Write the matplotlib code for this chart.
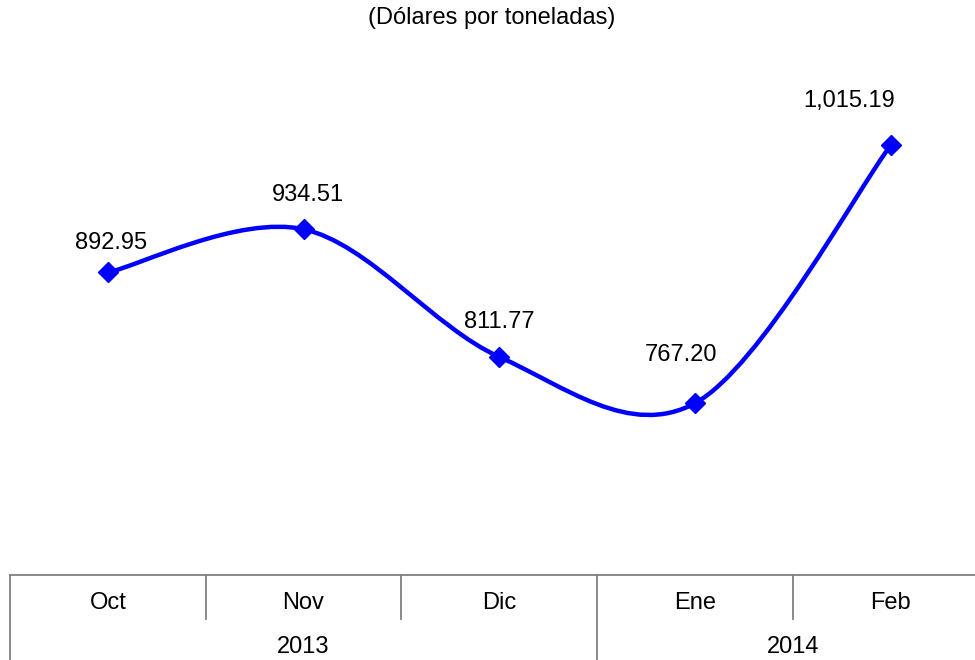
import numpy as np
import matplotlib
matplotlib.use("Agg")
from matplotlib import pyplot as plt
from matplotlib.path import Path
from matplotlib.patches import PathPatch

plt.rcParams['font.family'] = ['Liberation Sans', 'DejaVu Sans']

months = ["Oct", "Nov", "Dic", "Ene", "Feb"]
years = ["2013", "2014"]
year_span = [(0, 2), (3, 4)]
prices = [892.95, 934.51, 811.77, 767.20, 1015.19]
price_labels = ["892.95", "934.51", "811.77", "767.20", "1,015.19"]

W, H = 975, 660
fig = plt.figure(figsize=(W / 100, H / 100), dpi=100)
# axes from x=10px to ~988px, y from 575px (bottom) to top of figure
ax = fig.add_axes([10 / W, 85 / H, 978.5 / W, 575 / H])
ax.set_xlim(-0.5, 4.5)
ax.set_ylim(602, 1155)

x = np.arange(len(prices))
y = np.array(prices)

# Excel style smooth line: catmull-rom converted to bezier segments
verts = [(x[0], y[0])]
codes = [Path.MOVETO]
n = len(x)
for i in range(n - 1):
    p0 = np.array([x[max(i - 1, 0)], y[max(i - 1, 0)]])
    p1 = np.array([x[i], y[i]])
    p2 = np.array([x[i + 1], y[i + 1]])
    p3 = np.array([x[min(i + 2, n - 1)], y[min(i + 2, n - 1)]])
    c1 = p1 + (p2 - p0) / 6
    c2 = p2 - (p3 - p1) / 6
    verts += [tuple(c1), tuple(c2), tuple(p2)]
    codes += [Path.CURVE4] * 3
ax.add_patch(PathPatch(Path(verts, codes), fill=False, edgecolor="#0000FF",
                       lw=3.2, capstyle="round", joinstyle="round"))
ax.plot(x, y, linestyle="none", marker="D", markersize=10, color="#0000FF")

# data labels (offsets in points)
offsets = [(2, 21), (3, 25), (0, 25), (-10, 35), (-30, 32)]
for xi, yi, lab, off in zip(x, y, price_labels, offsets):
    ax.annotate(lab, (xi, yi), xytext=off, textcoords="offset points",
                ha="center", va="center", fontsize=17)

ax.set_xticks([])
ax.set_yticks([])
for s in ["top", "right", "left"]:
    ax.spines[s].set_visible(False)
ax.spines["bottom"].set_color("#808080")
ax.spines["bottom"].set_linewidth(1.3)

# category table under the axis
trans = ax.get_xaxis_transform()
row1 = -44 / 575
row2 = -85 / 575
gray = "#808080"
ax.plot([-0.5, -0.5], [0, row2], transform=trans, color=gray, lw=1.3, clip_on=False)
for i in range(len(months) - 1):
    full = any(i + 0.5 == hi + 0.5 for lo, hi in year_span[:-1])
    ax.plot([i + 0.5, i + 0.5], [0, row2 if full else row1], transform=trans,
            color=gray, lw=1.3, clip_on=False)
for i, m in enumerate(months):
    ax.text(i, -28 / 575, m, transform=trans, ha="center", va="center", fontsize=17)
for (lo, hi), yr in zip(year_span, years):
    ax.text((lo + hi) / 2, -72 / 575, yr, transform=trans, ha="center", va="center", fontsize=17)

fig.text(492 / W, 1 - 18 / H, "(Dólares por toneladas)", ha="center", va="center", fontsize=17)

fig.savefig("out.png", dpi=100)
